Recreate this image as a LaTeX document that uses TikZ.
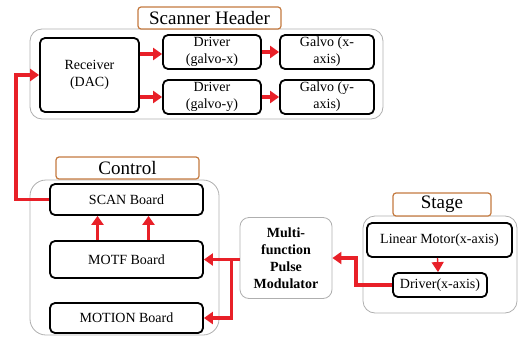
\documentclass[tikz,border=0pt]{standalone}
\usepackage{fontspec}
\setmainfont{Liberation Serif}
\usetikzlibrary{arrows.meta}
\definecolor{sigred}{RGB}{232,32,40}
\definecolor{tagorange}{RGB}{196,122,64}
\definecolor{groupgray}{RGB}{175,175,175}
\tikzset{
  unitbox/.style={draw=black, line width=1.8pt, rounded corners=5pt, fill=white,
    inner sep=1pt, align=center, font=\fontsize{14}{17}\selectfont},
  groupbox/.style={draw=groupgray, line width=0.8pt, rounded corners=12pt, inner sep=0pt},
  tagbox/.style={draw=tagorange, line width=1.2pt, rounded corners=3pt, fill=white,
    inner sep=0pt, font=\fontsize{19}{20}\selectfont},
  sig/.style={draw=sigred, line width=3.6pt, -{Triangle[length=9pt,width=12pt]}},
}
\begin{document}
\begin{tikzpicture}[x=1pt,y=-1pt]
\useasboundingbox (0,0) rectangle (518,337);

% Scanner header group
\node[groupbox, minimum width=353pt, minimum height=90pt] (shgrp) at (206.5,74) {};
\node[tagbox, minimum width=143pt, minimum height=22pt] (shtag) at (209.5,18) {Scanner Header};
\node[unitbox, minimum width=99pt, minimum height=74pt] (recv) at (89.5,75) {Receiver\\(DAC)};
\node[unitbox, minimum width=98pt, minimum height=34pt] (drvx) at (212,52) {Driver\\(galvo-x)};
\node[unitbox, minimum width=98pt, minimum height=34pt] (drvy) at (212,97) {Driver\\(galvo-y)};
\node[unitbox, minimum width=94pt, minimum height=34pt] (galx) at (327,52) {Galvo (x-\\axis)};
\node[unitbox, minimum width=94pt, minimum height=34pt] (galy) at (327,97) {Galvo (y-\\axis)};

% Control group
\node[groupbox, rounded corners=16pt, minimum width=189pt, minimum height=155pt] (ctrlgrp) at (124.5,257.5) {};
\node[tagbox, minimum width=143pt, minimum height=22pt] (ctrltag) at (127.5,168) {Control};
\node[unitbox, minimum width=153pt, minimum height=31pt] (scan) at (126.5,199.5) {SCAN Board};
\node[unitbox, minimum width=153pt, minimum height=37pt] (motf) at (126.5,259.5) {MOTF Board};
\node[unitbox, minimum width=153pt, minimum height=30pt] (motion) at (126.5,318) {MOTION Board};

% Pulse modulator
\node[groupbox, rounded corners=9pt, minimum width=92pt, minimum height=81pt, align=center,
  font=\bfseries\fontsize{14}{17}\selectfont] (mfpm) at (286,258) {Multi-\\function\\Pulse\\Modulator};

% Stage group
\node[groupbox, minimum width=154pt, minimum height=97pt] (stgrp) at (440,264.5) {};
\node[tagbox, minimum width=98pt, minimum height=23pt] (sttag) at (442,204.5) {Stage};
\node[unitbox, minimum width=145pt, minimum height=34pt] (linmot) at (439.5,240) {Linear Motor(x-axis)};
\node[unitbox, minimum width=94pt, minimum height=24pt] (drvst) at (440,285) {Driver(x-axis)};

% Signal paths
\draw[sig] (scan.west) -- ++(-33,0) |- (recv.west);
\draw[sig] ([yshift=-2pt]recv.east |- drvx.west) -- ([yshift=-2pt]drvx.west);
\draw[sig] (recv.east |- drvy.west) -- (drvy.west);
\draw[sig] (drvx.east) -- (galx.west);
\draw[sig] (drvy.east) -- (galy.west);
\draw[sig] ([xshift=-29pt]motf.north) -- ([xshift=-29pt]scan.south);
\draw[sig] ([xshift=22pt]motf.north) -- ([xshift=22pt]scan.south);
\coordinate (split) at ([xshift=-8pt]mfpm.west |- motf.east);
\draw[sig] (mfpm.west |- motf.east) -- (motf.east);
\draw[sig] (split) |- (motion.east);
\draw[sig] (drvst.west) -- ++(-36,0) |- (mfpm.east);
\draw[draw=sigred, line width=1.4pt, -{Triangle[length=10pt,width=12pt]}] ([xshift=-2pt]linmot.south) -- ([xshift=-2pt]drvst.north);
\end{tikzpicture}
\end{document}
